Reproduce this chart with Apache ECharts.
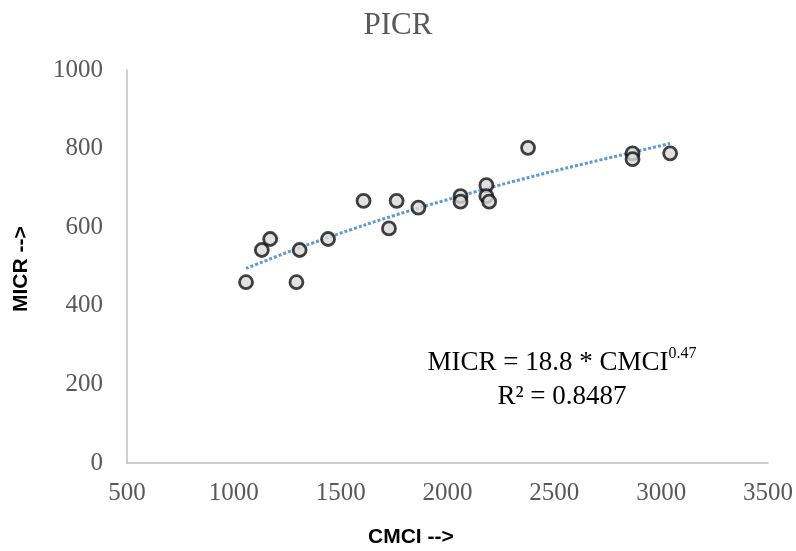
<!DOCTYPE html>
<html>
<head>
<meta charset="utf-8">
<script src="https://cdn.jsdelivr.net/npm/echarts@6/dist/echarts.min.js"></script>
<style>
  html, body { margin: 0; padding: 0; background: #fff; }
  #chart { width: 796px; height: 551px; }
</style>
</head>
<body>
<div id="chart"></div>
<script>
// observed points (CMCI, MICR)
const cmci = [1057, 1293, 1131, 1170, 1308, 1441, 1607, 1726, 1762, 1864, 2061, 2061, 2182, 2182, 2195, 2377, 2866, 2866, 3042];
const micr = [460, 460, 542, 570, 542, 570, 667, 597, 667, 650, 679, 665, 707, 679, 665, 802, 788, 773, 788];

// dotted power trendline
const trendX = [1057, 1308, 1620, 1860, 2182, 2477, 3042];
const trendY = [495, 548, 607, 648, 698, 740, 813];

const xTicks = [500, 1000, 1500, 2000, 2500, 3000, 3500];
const yTicks = [0, 200, 400, 600, 800, 1000];

const chart = echarts.init(document.getElementById("chart"));

const serif = "'Liberation Serif', 'Times New Roman', serif";
const sans = "'Liberation Sans', Arial, sans-serif";

chart.setOption({
  animation: false,
  title: {
    text: "PICR",
    left: "center",
    top: 5,
    textStyle: { fontFamily: serif, fontSize: 31, fontWeight: "normal", color: "#595959" },
  },
  grid: { left: 127, right: 27, top: 70, bottom: 88 },
  xAxis: {
    type: "value",
    min: xTicks[0],
    max: xTicks[xTicks.length - 1],
    interval: 500,
    axisLine: { show: true, lineStyle: { color: "#bfbfbf", width: 1.5 } },
    axisTick: { show: false },
    splitLine: { show: false },
    axisLabel: { fontFamily: serif, fontSize: 25, color: "#595959", margin: 18, formatter: (v) => String(v) },
  },
  yAxis: {
    type: "value",
    min: yTicks[0],
    max: yTicks[yTicks.length - 1],
    interval: 200,
    axisLine: { show: true, lineStyle: { color: "#bfbfbf", width: 1.5 } },
    axisTick: { show: false },
    splitLine: { show: false },
    axisLabel: { fontFamily: serif, fontSize: 25, color: "#595959", margin: 24, formatter: (v) => String(v) },
  },
  graphic: [
    {
      type: "text",
      left: 368,
      top: 527,
      style: { text: "CMCI -->", font: "bold 21px " + sans, fill: "#000" },
    },
    {
      type: "text",
      x: 11,
      y: 312,
      rotation: Math.PI / 2,
      style: { text: "MICR -->", font: "bold 21px " + sans, fill: "#000" },
    },
    {
      type: "text",
      x: 562,
      y: 346,
      style: {
        text: "{b|MICR = 18.8 * CMCI}{s|0.47}\n{b|R² = 0.8487}",
        align: "center",
        lineHeight: 34,
        rich: {
          b: { fontFamily: serif, fontSize: 27, color: "#595959", lineHeight: 34 },
          s: { fontFamily: serif, fontSize: 16, color: "#595959", verticalAlign: "top", lineHeight: 34, padding: [0, 0, 10, 0] },
        },
      },
    },
  ],
  series: [
    {
      type: "line",
      data: trendX.map((v, i) => [v, trendY[i]]),
      smooth: 0.3,
      showSymbol: false,
      lineStyle: { color: "#5b9bd5", width: 3, type: [3, 2] },
      z: 1,
    },
    {
      type: "scatter",
      data: cmci.map((v, i) => [v, micr[i]]),
      symbol: "circle",
      symbolSize: 13,
      itemStyle: { color: "#d9d9d9", borderColor: "#111", borderWidth: 2.8 },
      z: 2,
    },
  ],
});
</script>
</body>
</html>
